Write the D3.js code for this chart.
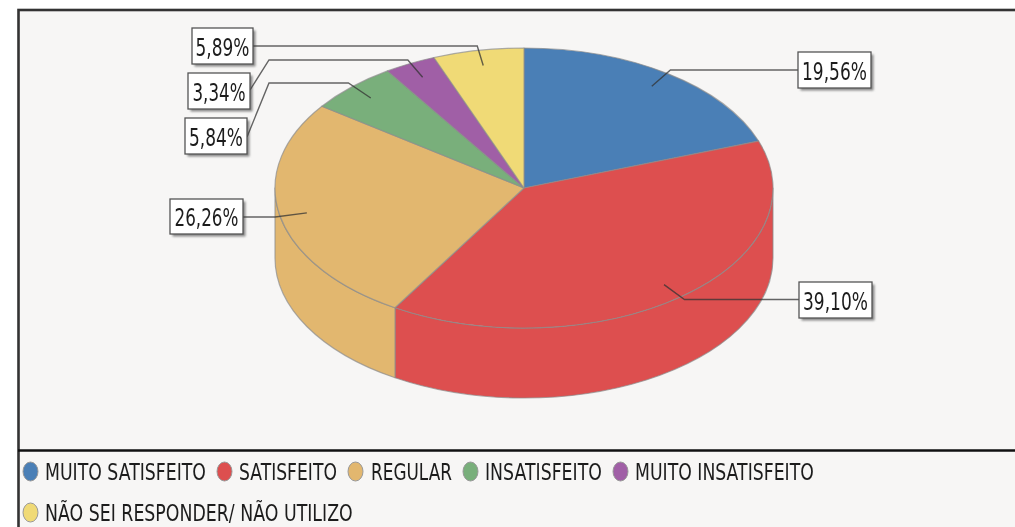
<!DOCTYPE html>
<html>
<head>
<meta charset="utf-8">
<script src="https://cdn.jsdelivr.net/npm/d3@7"></script>
<style>
html, body { margin: 0; padding: 0; background: #fff; overflow: hidden; }
text { font-family: "DejaVu Sans", sans-serif; fill: #1c1c1c; }
svg { filter: blur(0.45px); }
</style>
</head>
<body>
<div id="chart"></div>
<script>
var categories = ["MUITO SATISFEITO", "SATISFEITO", "REGULAR", "INSATISFEITO", "MUITO INSATISFEITO", "NÃO SEI RESPONDER/ NÃO UTILIZO"];
var values = [19.56, 39.10, 26.26, 5.84, 3.34, 5.89];
var valueLabels = ["19,56%", "39,10%", "26,26%", "5,84%", "3,34%", "5,89%"];
var colors = ["#4a7fb6", "#dd4f4f", "#e2b76f", "#79af7b", "#a05fa6", "#f0da76"];

var svgWidth = 1015;
var svgHeight = 527;

// pie geometry
var cx = 524, cy = 188, rx = 249, ry = 140, depth = 70;

// label boxes, same order as the values: x, y, width, height
var boxes = [
    [798, 52, 73, 36],
    [799, 282, 73, 36],
    [170, 199, 73, 35],
    [185, 118, 62, 36],
    [188, 73, 62, 36],
    [192, 28, 61, 36]
];
// leader goes from the elbow along this y to bendX (if any), then to the box edge at boxY
var leaders = [
    {y: 70, boxX: 798},
    {y: 299.5, boxX: 799},
    {y: 217, boxX: 243},
    {y: 83, bendX: 269, boxX: 247, boxY: 137},
    {y: 60, bendX: 269, boxX: 250, boxY: 90},
    {y: 46, boxX: 253}
];
var boxTextWidth = [65, 65, 64, 54, 53, 54];

// legend layout: circle x, text x, text width, row
var legendLayout = [
    {cx: 30.5, tx: 45, tw: 161, row: 0},
    {cx: 224.5, tx: 239, tw: 98, row: 0},
    {cx: 355.5, tx: 371, tw: 81, row: 0},
    {cx: 470.5, tx: 485, tw: 117, row: 0},
    {cx: 620.5, tx: 635, tw: 179, row: 0},
    {cx: 30.5, tx: 45, tw: 308, row: 1}
];
var legendRows = [471.5, 512.5];

var svg = d3.select("#chart")
    .append("svg")
    .attr("width", svgWidth)
    .attr("height", svgHeight)
    .style("display", "block");

var defs = svg.append("defs");
defs.append("filter").attr("id", "soft")
    .attr("x", "-20%").attr("y", "-20%").attr("width", "140%").attr("height", "140%")
    .append("feGaussianBlur").attr("stdDeviation", 1.2);

// the reference text is squeezed sideways, so scale each text to its read width
function squeeze(selection, xOf, yOf, widthOf) {
    selection.each(function(d, i) {
        var t = d3.select(this);
        var k = widthOf(d, i) / this.getComputedTextLength();
        t.attr("transform", "translate(" + xOf(d, i) + "," + yOf(d, i) + ") scale(" + k + ",1)");
    });
}

// frame and background
svg.append("rect")
    .attr("x", 18.5).attr("y", 10)
    .attr("width", svgWidth).attr("height", svgHeight)
    .attr("fill", "#f7f6f5")
    .attr("stroke", "#333")
    .attr("stroke-width", 2.6);
svg.append("line")
    .attr("x1", 18).attr("x2", svgWidth)
    .attr("y1", 450.5).attr("y2", 450.5)
    .attr("stroke", "#111")
    .attr("stroke-width", 2.5);

// angles come from d3.pie, 0 is the top and they go clockwise
var pie = d3.pie().sort(null).value(d => d);
var slices = pie(values).map(function(s, i) {
    s.color = colors[i];
    s.label = valueLabels[i];
    s.box = boxes[i];
    s.leader = leaders[i];
    s.textWidth = boxTextWidth[i];
    s.mid = (s.startAngle + s.endAngle) / 2;
    return s;
});

var px = (a, f) => cx + rx * f * Math.sin(a);
var py = (a, f) => cy - ry * f * Math.cos(a);

function rimPath(a0, a1, offset, first) {
    // an elliptical arc from a0 to a1, sweep follows the sign of the angle change
    var sweep = a1 > a0 ? 1 : 0;
    var large = Math.abs(a1 - a0) > Math.PI ? 1 : 0;
    return (first ? "M" : "L") + px(a0, 1) + "," + (py(a0, 1) + offset) +
        "A" + rx + "," + ry + " 0 " + large + " " + sweep + " " + px(a1, 1) + "," + (py(a1, 1) + offset);
}

// side wall, only the front half of the ellipse shows
var walls = svg.append("g");
slices.forEach(function(s) {
    var a0 = Math.max(s.startAngle, Math.PI / 2);
    var a1 = Math.min(s.endAngle, 3 * Math.PI / 2);
    if (a1 <= a0) return;
    walls.append("path")
        .attr("d", rimPath(a0, a1, 0, true) + rimPath(a1, a0, depth, false) + "Z")
        .attr("fill", s.color)
        .attr("stroke", "#8c8c8c")
        .attr("stroke-opacity", 0.7)
        .attr("stroke-width", 1.2)
        .attr("stroke-linejoin", "round");
});

// top face
var tops = svg.append("g");
slices.forEach(function(s) {
    tops.append("path")
        .attr("d", "M" + cx + "," + cy + rimPath(s.startAngle, s.endAngle, 0, false) + "Z")
        .attr("fill", s.color)
        .attr("stroke", "#8c8c8c")
        .attr("stroke-opacity", 0.7)
        .attr("stroke-width", 1.2)
        .attr("stroke-linejoin", "round");
});

// box shadows go under the leaders
svg.append("g").selectAll("rect")
    .data(slices)
    .enter()
    .append("rect")
    .attr("x", d => d.box[0] + 2.5)
    .attr("y", d => d.box[1] + 2.5)
    .attr("width", d => d.box[2])
    .attr("height", d => d.box[3])
    .attr("fill", "#888")
    .attr("filter", "url(#soft)");

// leaders
svg.append("g").selectAll("path")
    .data(slices)
    .enter()
    .append("path")
    .attr("d", function(d) {
        var ex = px(d.mid, 1.02), y = d.leader.y;
        var p = "M" + px(d.mid, 0.89) + "," + py(d.mid, 0.89) + "L" + ex + "," + y;
        if (d.leader.bendX) {
            p += "L" + d.leader.bendX + "," + y + "L" + d.leader.boxX + "," + d.leader.boxY;
        } else {
            p += "L" + d.leader.boxX + "," + y;
        }
        return p;
    })
    .attr("fill", "none")
    .attr("stroke", "#333")
    .attr("stroke-opacity", 0.75)
    .attr("stroke-width", 1.4);

// label boxes
var labelBoxes = svg.append("g").selectAll("g")
    .data(slices)
    .enter()
    .append("g");
labelBoxes.append("rect")
    .attr("x", d => d.box[0])
    .attr("y", d => d.box[1])
    .attr("width", d => d.box[2])
    .attr("height", d => d.box[3])
    .attr("fill", "#fff")
    .attr("stroke", "#555")
    .attr("stroke-width", 1.3);
labelBoxes.append("text")
    .attr("text-anchor", "middle")
    .attr("font-size", 25)
    .text(d => d.label)
    .call(squeeze,
        d => d.box[0] + d.box[2] / 2,
        d => d.box[1] + d.box[3] / 2 + 9.5,
        d => d.textWidth);

// legend
var legend = svg.append("g").selectAll("g")
    .data(categories)
    .enter()
    .append("g");
legend.append("ellipse")
    .attr("cx", (d, i) => legendLayout[i].cx)
    .attr("cy", (d, i) => legendRows[legendLayout[i].row])
    .attr("rx", 7.5)
    .attr("ry", 9.5)
    .attr("fill", (d, i) => colors[i])
    .attr("stroke", "#999")
    .attr("stroke-width", 1);
legend.append("text")
    .attr("font-size", 23)
    .text(d => d)
    .call(squeeze,
        (d, i) => legendLayout[i].tx,
        (d, i) => legendRows[legendLayout[i].row] + 8.5,
        (d, i) => legendLayout[i].tw);
</script>
</body>
</html>
